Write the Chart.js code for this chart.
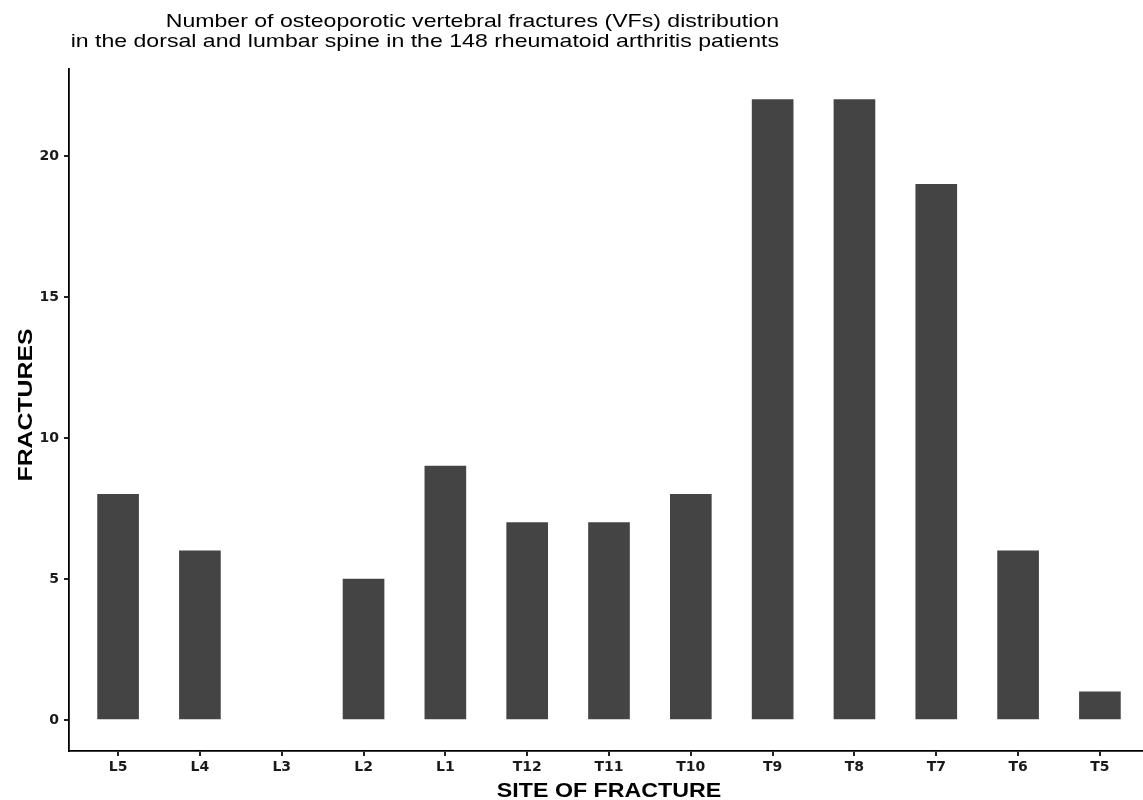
<!DOCTYPE html>
<html><head><meta charset="utf-8">
<script src="https://cdn.jsdelivr.net/npm/chart.js@4/dist/chart.umd.min.js"></script>
<style>html,body{margin:0;padding:0;background:#fff;overflow:hidden}#wrap{width:1149px;height:800px;position:relative}</style>
</head><body><div id="wrap"><canvas id="c"></canvas></div>
<script>
const categories = ['L5','L4','L3','L2','L1','T12','T11','T10','T9','T8','T7','T6','T5'];
const fractures = [8,6,0,5,9,7,7,8,22,22,19,6,1];
const yTicks = [0,5,10,15,20];
const titleLines = ['Number of osteoporotic vertebral fractures (VFs) distribution','in the dorsal and lumbar spine in the 148 rheumatoid arthritis patients'];
const xTitle = 'SITE OF FRACTURE';
const yTitle = 'FRACTURES';

const textPlugin = {
  id:'texts',
  afterDraw(chart){
    const ctx = chart.ctx;
    ctx.save();
    ctx.fillStyle = '#000';
    ctx.textBaseline = 'alphabetic';
    ctx.font = '19px "Liberation Sans", Arial, sans-serif';
    ctx.textAlign = 'right';
    ctx.save(); ctx.translate(779, 27); ctx.scale(1.215, 1); ctx.fillText(titleLines[0], 0, 0); ctx.restore();
    ctx.save(); ctx.translate(779, 47); ctx.scale(1.215, 1); ctx.fillText(titleLines[1], 0, 0); ctx.restore();
    ctx.textAlign = 'center';
    ctx.font = 'bold 20px "Liberation Sans", Arial, sans-serif';
    ctx.save(); ctx.translate(609, 797); ctx.scale(1.16, 1); ctx.fillText(xTitle, 0, 0); ctx.restore();
    ctx.save(); ctx.translate(32, 405); ctx.rotate(-Math.PI/2); ctx.scale(1.24, 1); ctx.fillText(yTitle, 0, 0); ctx.restore();
    ctx.restore();
  }
};

const tickFont = {family:'"DejaVu Sans", sans-serif', size:14, weight:'bold'};

new Chart(document.getElementById('c'), {
  type:'bar',
  data:{ datasets:[{
    data: categories.map((c,i)=>({x:i+1, y:fractures[i]})),
    backgroundColor: fractures.map(v => v === 0 ? 'rgba(0,0,0,0)' : '#444444'),
    barThickness:41
  }] },
  options:{
    responsive:true, maintainAspectRatio:false, animation:false,
    layout:{ padding:{ top:68.6, left:0, right:0, bottom:0 } },
    plugins:{ legend:{display:false}, tooltip:{enabled:false}, title:{display:false} },
    scales:{
      x:{ type:'linear', min:0.4, max:13.6, offset:false,
        afterBuildTicks(s){ s.ticks = categories.map((c,i)=>({value:i+1})); },
        afterFit(s){ s.height = 49; },
        ticks:{ autoSkip:false, maxRotation:0, padding:3, color:'#1a1a1a', font:tickFont, callback:(v)=>categories[v-1] },
        grid:{ offset:false, drawOnChartArea:false, drawTicks:true, tickLength:5, color:'#222', lineWidth:2 },
        border:{ display:true, color:'#000', width:1.8 }
      },
      y:{ min:-1.1, max:23.1,
        afterBuildTicks(s){ s.ticks = yTicks.map(v=>({value:v})); },
        afterFit(s){ s.width = 69; },
        ticks:{ padding:5, color:'#1a1a1a', font:tickFont },
        grid:{ drawOnChartArea:false, drawTicks:true, tickLength:5, color:'#222', lineWidth:2 },
        border:{ display:true, color:'#000', width:1.8 }
      }
    }
  },
  plugins:[textPlugin]
});
</script></body></html>
